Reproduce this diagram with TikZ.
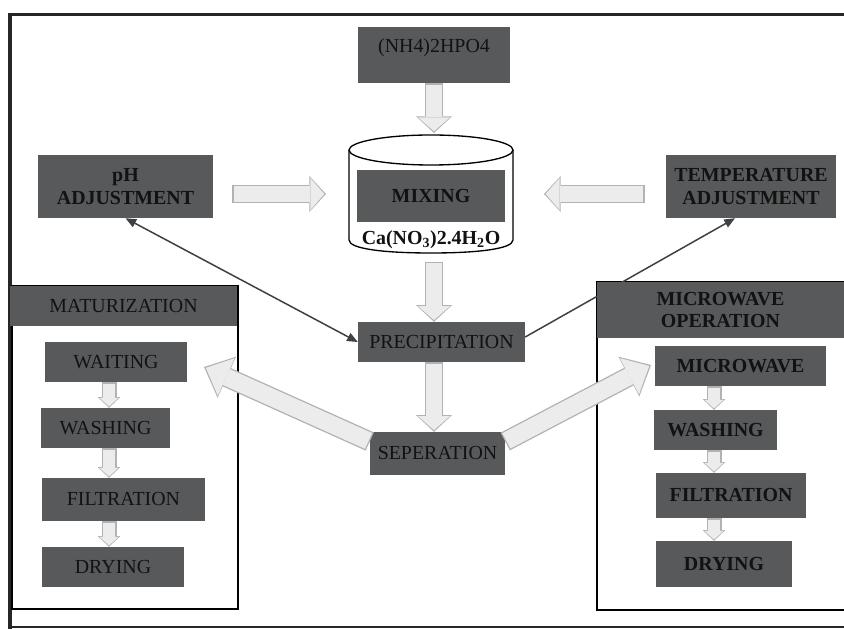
\documentclass[tikz,border=0pt]{standalone}
\usepackage{fontspec}
\setmainfont{Liberation Serif}
\usepackage{tikz}
\usetikzlibrary{arrows.meta}
\definecolor{boxgray}{RGB}{88,89,91}
\definecolor{textdark}{RGB}{18,18,18}

\begin{document}
\begin{tikzpicture}[x=0.03cm, y=-0.03cm, font=\fontsize{17}{19}\selectfont]

        \tikzset{box/.style = {fill=boxgray, text=textdark, inner sep=0pt, align=center}}
        \tikzset{boldbox/.style = {box, font=\fontsize{17}{19}\selectfont\bfseries}}
        \tikzset{link/.style = {draw=black!75, line width=0.045cm}}
        \tikzset{bigarrow/.style = {draw=gray!15, line width=0.46cm, shorten <=0.04cm, shorten >=0.05cm,
            -{Triangle[length=0.42cm,width=0.96cm,line width=0pt]},
            preaction={draw=gray!60, line width=0.54cm, shorten <=0cm, shorten >=0cm,
            -{Triangle[length=0.5cm,width=1.08cm,line width=0pt]}}}}
        \tikzset{widearrow/.style = {draw=gray!15, line width=0.52cm, shorten <=0.04cm, shorten >=0.06cm,
            -{Triangle[length=0.67cm,width=1.23cm,line width=0pt]},
            preaction={draw=gray!60, line width=0.6cm, shorten <=0cm, shorten >=0cm,
            -{Triangle[length=0.75cm,width=1.35cm,line width=0pt]}}}}
        \tikzset{smallarrow/.style = {draw=gray!15, line width=0.37cm, shorten <=0.04cm, shorten >=0.04cm,
            -{Triangle[length=0.26cm,width=0.58cm,line width=0pt]},
            preaction={draw=gray!60, line width=0.45cm, shorten <=0cm, shorten >=0cm,
            -{Triangle[length=0.32cm,width=0.68cm,line width=0pt]}}}}

        \useasboundingbox (0,0) rectangle (844,629);
        \clip (0,0) rectangle (844,629);

        % frame and the two panels
        \draw[black!85, line width=0.09cm] (8,15) -- (844,15);
        \draw[black!85, line width=0.1cm] (10,14) -- (10,629);
        \draw[black!85, line width=0.06cm] (10,627) -- (844,627);
        \draw[line width=0.035cm] (12,286) rectangle (238,609);
        \draw[line width=0.035cm] (597,282) rectangle (850,610);

        % cylinder
        \filldraw[fill=white, line width=0.04cm] (349,150) -- (349,240) .. controls (349,249) and (385,253) .. (431,253)
            .. controls (477,253) and (513,249) .. (513,240) -- (513,150);
        \draw[fill=white, line width=0.04cm] (431,150) ellipse [x radius=82, y radius=15];

        \node[box, minimum width=4.56cm, minimum height=1.68cm, text height=0.35cm, text depth=0.5cm] (nh) at (434,55) {(NH4)2HPO4};
        \node[boldbox, minimum width=5.25cm, minimum height=1.89cm] (ph) at (125.5,186.5) {pH\\ADJUSTMENT};
        \node[boldbox, minimum width=5.1cm, minimum height=1.89cm] (temp) at (751,186.5) {TEMPERATURE\\ADJUSTMENT};
        \node[boldbox, minimum width=4.44cm, minimum height=1.56cm] (mix) at (431,196) {MIXING};
        \node[text=textdark, inner sep=0pt, font=\fontsize{17}{19}\selectfont\bfseries] (ca) at (431,240) {Ca(NO\textsubscript{3})2.4H\textsubscript{2}O};
        \node[box, minimum width=5.01cm, minimum height=1.2cm] (prec) at (441.5,342) {PRECIPITATION};
        \node[box, minimum width=4.05cm, minimum height=1.29cm] (sep) at (437.5,453.5) {SEPERATION};

        \node[box, minimum width=6.81cm, minimum height=1.2cm] (mat) at (123.5,306) {MATURIZATION};
        \node[box, minimum width=4.26cm, minimum height=1.2cm] (wait) at (116,362) {WAITING};
        \node[box, minimum width=3.87cm, minimum height=1.2cm] (washa) at (105.5,428) {WASHING};
        \node[box, minimum width=4.89cm, minimum height=1.29cm] (filta) at (123.5,499.5) {FILTRATION};
        \node[box, minimum width=4.26cm, minimum height=1.2cm] (drya) at (113,567) {DRYING};

        \node[boldbox, minimum width=5.13cm, minimum height=1.2cm] (mw) at (740.5,366) {MICROWAVE};
        \node[boldbox, minimum width=3.69cm, minimum height=1.2cm] (washb) at (715.5,430) {WASHING};
        \node[boldbox, minimum width=4.5cm, minimum height=1.35cm] (filtb) at (731,495.5) {FILTRATION};
        \node[boldbox, minimum width=4.08cm, minimum height=1.38cm] (dryb) at (724,564) {DRYING};

        \coordinate (cyltop) at (434,133);
        \coordinate (cylbot) at (434,262);
        \coordinate (cylw) at (326,194);
        \coordinate (cyle) at (544,194);
        \coordinate (mattip) at (204,367);
        \coordinate (mwtip) at (651,365);
        \coordinate (lcol) at (109,0);
        \coordinate (rcol) at (714,0);

        \draw[link, {Triangle[length=0.32cm,width=0.26cm]}-{Triangle[length=0.32cm,width=0.26cm]}] (ph.south) -- (prec.west);
        \draw[link, -{Triangle[length=0.32cm,width=0.26cm]}] ([shift={(0,-5)}]prec.east) -- ([shift={(-16,0)}]temp.south);

        \node[boldbox, minimum width=7.41cm, minimum height=1.68cm] (mwop) at (720.5,310) {MICROWAVE\\OPERATION};

        \draw[bigarrow] (nh.south) -- (cyltop);
        \draw[bigarrow] ([shift={(19,7.5)}]ph.east) -- (cylw);
        \draw[bigarrow] ([shift={(-21,7.5)}]temp.west) -- (cyle);
        \draw[bigarrow] (cylbot) -- (cylbot |- prec.north);
        \draw[bigarrow] (cylbot |- prec.south) -- (cylbot |- sep.north);

        \draw[widearrow] ([shift={(0,-12)}]sep.west) -- (mattip);
        \draw[widearrow] ([shift={(0,-12)}]sep.east) -- (mwtip);

        \draw[smallarrow] (wait.south -| lcol) -- (washa.north -| lcol);
        \draw[smallarrow] (washa.south -| lcol) -- (filta.north -| lcol);
        \draw[smallarrow] (filta.south -| lcol) -- (drya.north -| lcol);
        \draw[smallarrow] (mw.south -| rcol) -- (washb.north -| rcol);
        \draw[smallarrow] (washb.south -| rcol) -- (filtb.north -| rcol);
        \draw[smallarrow] (filtb.south -| rcol) -- (dryb.north -| rcol);
\end{tikzpicture}
\end{document}
